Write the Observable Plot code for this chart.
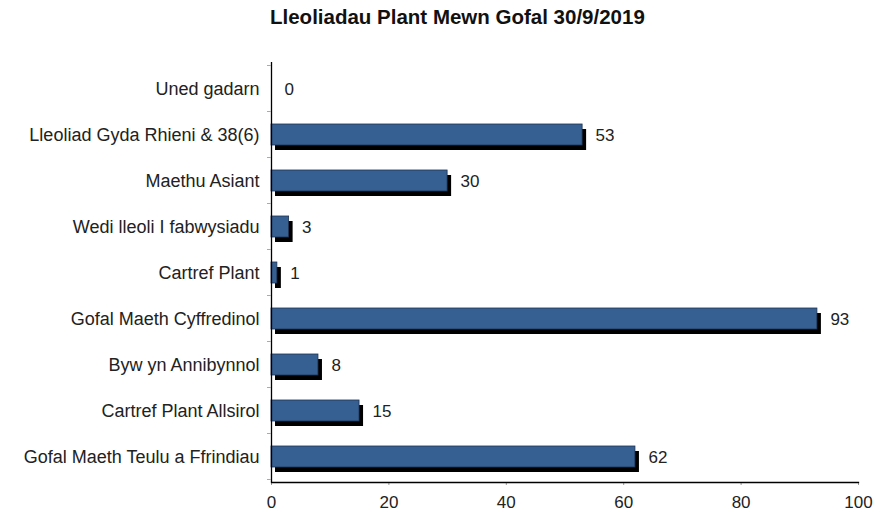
<!DOCTYPE html>
<html>
<head>
<meta charset="utf-8">
<script src="https://cdn.jsdelivr.net/npm/d3@7"></script>
<script src="https://cdn.jsdelivr.net/npm/@observablehq/plot@0.6"></script>
<style>
  body { margin: 0; background: #fff; }
  #wrap { position: relative; width: 878px; height: 517px; font-family: "Liberation Sans", Arial, sans-serif; }
  #title { position: absolute; top: 5px; left: 270px; white-space: nowrap; font-weight: bold; font-size: 20.5px; color: #111; }
  #chart { position: absolute; top: 0; left: 0; }
</style>
</head>
<body>
<div id="wrap">
  <div id="chart"></div>
  <div id="title">Lleoliadau Plant Mewn Gofal 30/9/2019</div>
</div>
<script>
const categories = [
  "Uned gadarn",
  "Lleoliad Gyda Rhieni & 38(6)",
  "Maethu Asiant",
  "Wedi lleoli I fabwysiadu",
  "Cartref Plant",
  "Gofal Maeth Cyffredinol",
  "Byw yn Annibynnol",
  "Cartref Plant Allsirol",
  "Gofal Maeth Teulu a Ffrindiau"
];
const values = [0, 53, 30, 3, 1, 93, 8, 15, 62];
const xTicks = [0, 20, 40, 60, 80, 100];

const data = categories.map((c, i) => ({category: c, value: values[i]}));

const boundaryTicks = (index, scales, vals, dims) => {
  const g = d3.create("svg:g");
  const y = scales.y;
  const step = y.step();
  const top = y(categories[0]) - (step - y.bandwidth()) / 2;
  for (let i = 0; i <= categories.length; i++) {
    const yy = top + i * step;
    g.append("line")
      .attr("x1", dims.marginLeft - 4).attr("x2", dims.marginLeft)
      .attr("y1", yy).attr("y2", yy)
      .attr("stroke", "#aaa").attr("stroke-width", 1);
  }
  return g.node();
};

const chart = Plot.plot({
  width: 878,
  height: 517,
  marginTop: 62,
  marginBottom: 35,
  marginLeft: 271,
  marginRight: 20,
  style: {fontFamily: "Liberation Sans, Arial, sans-serif", fontSize: "17px", color: "#222"},
  x: {domain: [0, 100], ticks: xTicks},
  y: {domain: categories, paddingInner: 0.55, paddingOuter: 0.275},
  marks: [
    Plot.barX(data, {x: "value", y: "category", fill: "#000", dx: 4, dy: 5}),
    Plot.barX(data, {x: "value", y: "category", fill: "#365f92", stroke: "#1f3350", strokeWidth: 0.8}),
    Plot.text(data, {x: "value", y: "category", text: d => String(d.value), textAnchor: "start", dx: 13, dy: 1, fontSize: 17, fill: "#222"}),
    Plot.axisY({tickSize: 0, tickPadding: 12, fontSize: 18, label: null}),
    Plot.axisX({ticks: xTicks, tickSize: 3, tickPadding: 10, fontSize: 17, stroke: "#999", label: null}),
    Plot.ruleX([0], {stroke: "#000", strokeWidth: 1.3}),
    Plot.frame({anchor: "bottom", stroke: "#000", strokeWidth: 1.3}),
    boundaryTicks
  ]
});
document.getElementById("chart").append(chart);
</script>
</body>
</html>
